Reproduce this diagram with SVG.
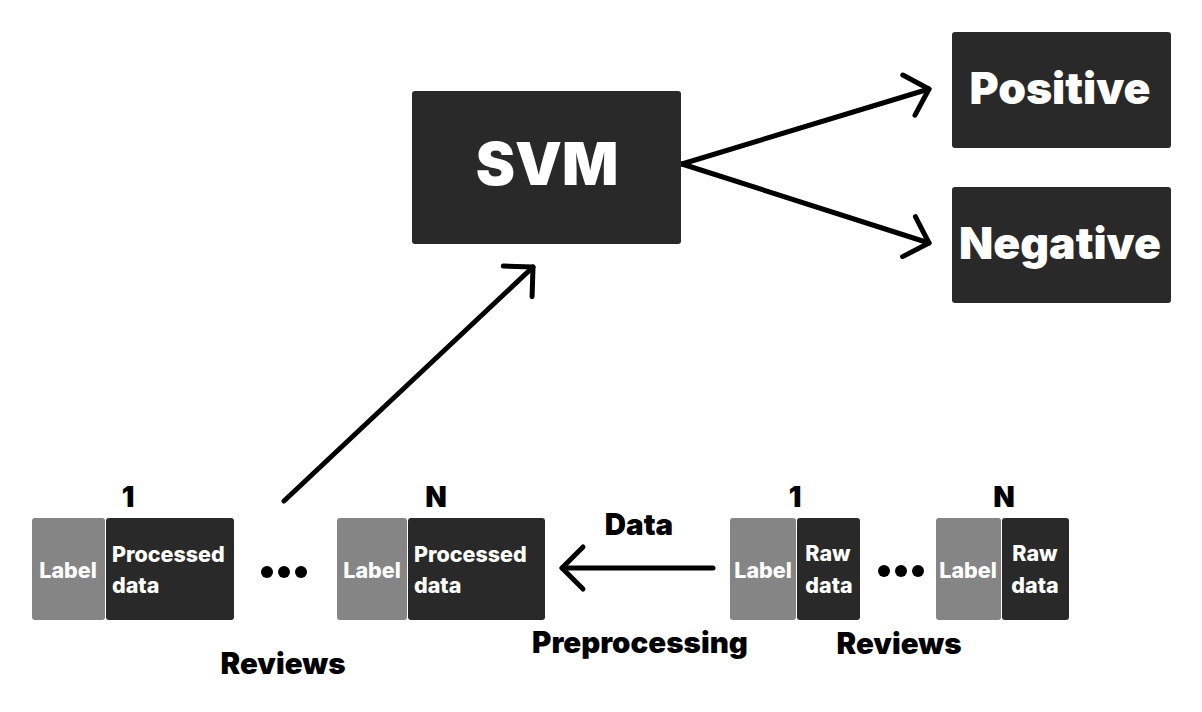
<svg xmlns="http://www.w3.org/2000/svg" width="1202" height="712" viewBox="0 0 1202 712">
<style>
text{font-family:Inter,"Liberation Sans",sans-serif;font-weight:800}
.dark{fill:#292929}
.gray{fill:#858585}
.w{fill:#fff}
.b{fill:#000}
.big{font-size:59px;font-weight:900}
.cls{font-size:44.5px;font-weight:900}
.lbl{font-size:29.5px;font-weight:900}
.num{font-size:28px;font-weight:900}
.small{font-size:21.5px}
.conn{fill:none;stroke:#000;stroke-width:5;stroke-linecap:round}
</style>
<defs>
<marker id="arr" markerUnits="userSpaceOnUse" markerWidth="40" markerHeight="60" refX="0" refY="0" orient="auto" overflow="visible">
<path d="M-21,-21 L0,0 L-21,21" fill="none" stroke="#000" stroke-width="5" stroke-linecap="round" stroke-linejoin="round"/>
</marker>
</defs>
<rect width="1202" height="712" fill="#fff"/>
<g id="connectors">
<line class="conn" x1="284" y1="501" x2="533" y2="267" marker-end="url(#arr)"/>
<line class="conn" x1="682" y1="164" x2="929" y2="89" marker-end="url(#arr)"/>
<line class="conn" x1="682" y1="164" x2="929" y2="243" marker-end="url(#arr)"/>
<line class="conn" x1="713" y1="568" x2="562" y2="568" marker-end="url(#arr)"/>
</g>
<g id="svm">
<rect class="dark" x="412" y="91" width="269" height="153" rx="3"/>
<text class="w big" x="547" y="185" text-anchor="middle">SVM</text>
</g>
<g id="positive">
<rect class="dark" x="952" y="32" width="219" height="116" rx="3"/>
<text class="w cls" x="1060" y="104" text-anchor="middle">Positive</text>
</g>
<g id="negative">
<rect class="dark" x="952" y="187" width="219" height="116" rx="3"/>
<text class="w cls" x="1060" y="259" text-anchor="middle">Negative</text>
</g>
<g id="processed1">
<rect class="gray" x="32" y="518" width="73" height="102" rx="3"/>
<rect class="dark" x="106" y="518" width="128" height="102" rx="3"/>
<text class="w small" x="68" y="578" text-anchor="middle">Label</text>
<text class="w small" x="112" y="562">Processed</text>
<text class="w small" x="112" y="593">data</text>
<text class="b num" x="128" y="507" text-anchor="middle">1</text>
</g>
<g id="dots1">
<circle class="b" cx="267" cy="572" r="6"/>
<circle class="b" cx="284" cy="572" r="6"/>
<circle class="b" cx="301" cy="572" r="6"/>
</g>
<g id="processedN">
<rect class="gray" x="337" y="518" width="70" height="102" rx="3"/>
<rect class="dark" x="408" y="518" width="137" height="102" rx="3"/>
<text class="w small" x="372" y="578" text-anchor="middle">Label</text>
<text class="w small" x="414" y="562">Processed</text>
<text class="w small" x="414" y="593">data</text>
<text class="b num" x="436" y="507" text-anchor="middle">N</text>
</g>
<text class="b lbl" x="283" y="674" text-anchor="middle">Reviews</text>
<text class="b lbl" x="639" y="535" text-anchor="middle">Data</text>
<text class="b lbl" x="640" y="653" text-anchor="middle">Preprocessing</text>
<g id="raw1">
<rect class="gray" x="730" y="518" width="66" height="102" rx="3"/>
<rect class="dark" x="797" y="518" width="63" height="102" rx="3"/>
<text class="w small" x="763" y="578" text-anchor="middle">Label</text>
<text class="w small" x="828" y="561" text-anchor="middle">Raw</text>
<text class="w small" x="829" y="593" text-anchor="middle">data</text>
<text class="b num" x="795" y="507" text-anchor="middle">1</text>
</g>
<g id="dots2">
<circle class="b" cx="884" cy="571" r="6"/>
<circle class="b" cx="901" cy="571" r="6"/>
<circle class="b" cx="918" cy="571" r="6"/>
</g>
<g id="rawN">
<rect class="gray" x="936" y="518" width="65" height="102" rx="3"/>
<rect class="dark" x="1002" y="518" width="67" height="102" rx="3"/>
<text class="w small" x="968" y="578" text-anchor="middle">Label</text>
<text class="w small" x="1035" y="561" text-anchor="middle">Raw</text>
<text class="w small" x="1035" y="593" text-anchor="middle">data</text>
<text class="b num" x="1004" y="507" text-anchor="middle">N</text>
</g>
<text class="b lbl" x="899" y="654" text-anchor="middle">Reviews</text>
</svg>
